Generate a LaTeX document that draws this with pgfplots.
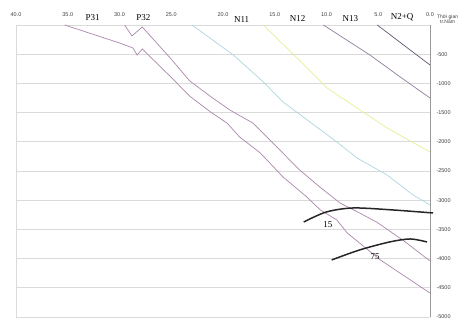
\documentclass[border=0pt]{standalone}
\usepackage{pgfplots}
\pgfplotsset{compat=1.18}
\usepackage{fontspec}
\setmainfont{Liberation Serif}
\newfontfamily\tickfont{Liberation Sans}
\definecolor{burial}{RGB}{170,135,172}
\definecolor{cyanl}{RGB}{170,215,222}
\definecolor{yell}{RGB}{228,238,150}
\definecolor{nthirteen}{RGB}{145,125,155}
\definecolor{ntwoq}{RGB}{100,85,110}
\definecolor{gridc}{RGB}{218,218,218}
\begin{document}
\begin{tikzpicture}
\path[use as bounding box] (-16pt,-3pt) rectangle (454pt,317pt);
\begin{axis}[
  at={(0,0)}, anchor=south west, scale only axis,
  width=414pt, height=292pt,
  xmin=0, xmax=40, x dir=reverse,
  ymin=-5000, ymax=0,
  clip=false,
  axis line style={draw=none},
  tick style={draw=none},
  ymajorgrids, grid style={gridc, line width=0.6pt},
  xtick={0,5,...,40},
  xticklabels={0.0,5.0,10.0,15.0,20.0,25.0,30.0,35.0,40.0},
  xticklabel pos=right,
  xticklabel style={font=\tickfont\fontsize{5.5}{6}\selectfont, text=black!75, yshift=4.5pt},
  ytick={-5000,-4500,...,0},
  yticklabels={-5000,-4500,-4000,-3500,-3000,-2500,-2000,-1500,-1000,-500,{}},
  yticklabel pos=right,
  yticklabel style={font=\tickfont\fontsize{5.5}{6}\selectfont, text=black!75, anchor=west, xshift=3pt},
]
% frame verticals
\draw[gridc, line width=0.6pt] (axis cs:40,0) -- (axis cs:40,-5000);
\draw[black!40, line width=0.6pt] (axis cs:0,0) -- (axis cs:0,-5000);
% burial curves
\addplot[burial, line width=0.7pt] coordinates {
(35.3,0)(30.0,-308)(28.7,-394)(28.3,-514)(27.8,-411)(25.1,-880)(23.2,-1220)(21.2,-1490)(19.6,-1680)(18.4,-1917)(16.4,-2191)(14.2,-2602)(11.9,-2945)(10.6,-3167)(9.0,-3338)(8.0,-3561)(4.8,-4023)(0,-4590)};
\addplot[burial, line width=0.7pt] coordinates {
(29.5,0)(28.8,-188)(27.8,-34)(25.1,-565)(23.2,-960)(21.0,-1250)(19.3,-1460)(17.1,-1680)(14.8,-2089)(12.6,-2482)(10.6,-2780)(8.7,-3047)(6.8,-3219)(5.1,-3380)(2.5,-3700)(0,-4040)};
\addplot[cyanl, line width=0.7pt] coordinates {
(23.0,0)(19.0,-514)(16.1,-976)(14.2,-1318)(11.6,-1661)(9.0,-2003)(7.05,-2277)(4.15,-2568)(1.64,-2910)(0,-3082)};
\addplot[yell, line width=0.7pt] coordinates {
(16.1,0)(12.85,-565)(9.95,-1079)(7.05,-1421)(4.15,-1763)(0,-2174)};
\addplot[nthirteen, line width=0.7pt] coordinates {
(10.3,0)(5.8,-514)(2.8,-900)(0,-1250)};
\addplot[ntwoq, line width=0.7pt] coordinates {
(5.1,0)(0,-685)};
% maturity lines
\addplot[black!85, line width=1.5pt, smooth] coordinates {
(12.2,-3373)(10.0,-3201)(7.4,-3133)(3.6,-3167)(-0.3,-3219)};
\addplot[black!85, line width=1.5pt, smooth] coordinates {
(9.5,-4023)(6.8,-3852)(3.9,-3715)(1.9,-3664)(0.3,-3715)};
\node[font=\fontsize{9}{10}\selectfont] at (axis cs:9.86,-3424) {15};
\node[font=\fontsize{9}{10}\selectfont] at (axis cs:5.3,-3972) {75};
% stratigraphic labels
\node[font=\fontsize{9}{10}\selectfont] at (axis cs:32.6,130) {P31};
\node[font=\fontsize{9}{10}\selectfont] at (axis cs:27.7,130) {P32};
\node[font=\fontsize{9}{10}\selectfont] at (axis cs:18.2,85) {N11};
\node[font=\fontsize{9}{10}\selectfont] at (axis cs:12.8,110) {N12};
\node[font=\fontsize{9}{10}\selectfont] at (axis cs:7.7,110) {N13};
\node[font=\fontsize{9}{10}\selectfont] at (axis cs:2.7,130) {N2+Q};
\node[font=\tickfont\fontsize{5}{5.5}\selectfont, text=black!75, align=center, inner sep=0pt] at (axis cs:-1.7,100) {Thời gian\\tr.Năm};
\end{axis}
\end{tikzpicture}
\end{document}
